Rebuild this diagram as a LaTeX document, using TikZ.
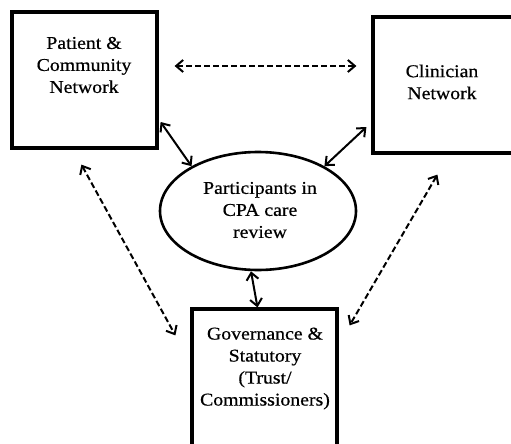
\documentclass[tikz,border=0pt]{standalone}
\usepackage{fontspec}
\setmainfont{Liberation Serif}[FakeStretch=1.1,FakeBold=0.6]
\usetikzlibrary{arrows.meta,calc,shapes.geometric}
\begin{document}
\begin{tikzpicture}[x=1pt,y=-1pt,
  boxstyle/.style={draw=black,line width=3.2pt,rectangle,inner sep=0pt,fill=white},
  lbl/.style={align=center,font=\fontsize{18}{22}\selectfont,inner sep=0pt},
  solidarrow/.style={line width=2pt,{Straight Barb[length=7pt,width=12pt,line width=2pt]}-{Straight Barb[length=7pt,width=12pt,line width=2pt]}},
  dasharrow/.style={solidarrow,dash pattern=on 6pt off 3pt}]
\useasboundingbox (0,0) rectangle (511,444);
\clip (0,0) rectangle (511,444);
\fill[white] (0,0) rectangle (511,444);
% boxes
\node[boxstyle,minimum width=145pt,minimum height=136pt] (boxA) at (84.5,80) {};
\node[boxstyle,minimum width=152pt,minimum height=136pt] (boxB) at (449,85) {};
\node[boxstyle,minimum width=145pt,minimum height=151pt] (boxC) at (264.5,384.5) {};
\node[draw=black,line width=2.6pt,ellipse,minimum width=196pt,minimum height=118pt,inner sep=0pt] (ell) at (258,211) {};
% labels
\node[lbl] (tA) at (84,65) {Patient \&\\Community\\Network};
\node[lbl] (tB) at (442,82) {Clinician\\Network};
\node[lbl] (tE) at (260,210) {Participants in\\CPA care\\review};
\node[lbl] (tC) at (265,368.5) {Governance \&\\Statutory\\(Trust/\\Commissioners)};
% connectors
\draw[dasharrow] ([yshift=14pt,xshift=16pt]boxA.east) -- ([yshift=14pt,xshift=-15pt]boxA.east -| boxB.west);
\draw[solidarrow] ([yshift=-42pt,xshift=2pt]boxA.east) -- (ell.146);
\draw[solidarrow] ([yshift=-42pt,xshift=-5pt]boxB.west) -- (ell.34);
\draw[solidarrow] ([xshift=-7pt]ell.south) -- ([xshift=-7pt]boxC.north);
\draw[dasharrow] ($(boxA.south west)+(71,15)$) -- ($(boxC.north west)+(-15,28)$);
\draw[dasharrow] ($(boxB.south west)+(66,20)$) -- ($(boxC.north east)+(11,18)$);
\end{tikzpicture}
\end{document}
